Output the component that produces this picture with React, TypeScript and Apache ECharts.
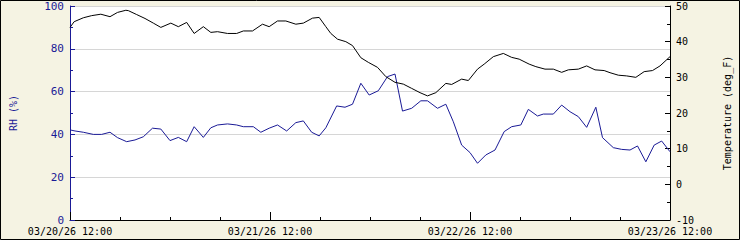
import React, { useEffect, useRef } from "react";
import * as echarts from "echarts";

const xTickLabels = ["03/20/26 12:00", "03/21/26 12:00", "03/22/26 12:00", "03/23/26 12:00"];

const tempHours = [0, 0.5, 1.6, 2.6, 3.7, 4.8, 5.7, 6.7, 7.0, 8.0, 9.0, 10.0, 10.9, 12.1, 13.0, 14.0, 14.9, 16.0, 16.9, 17.7, 18.9, 20.0, 20.8, 21.9, 23.1, 23.9, 24.9, 25.9, 27.1, 28.0, 29.1, 29.9, 30.7, 31.3, 32.1, 33.1, 33.9, 34.9, 35.8, 36.9, 37.9, 39.0, 40.0, 41.0, 42.0, 42.9, 43.9, 45.1, 45.8, 47.0, 47.8, 48.9, 49.7, 50.8, 52.0, 53.0, 53.9, 55.1, 55.9, 57.0, 58.0, 59.0, 59.8, 61.0, 62.0, 63.0, 64.1, 64.8, 65.8, 66.8, 67.9, 68.9, 69.9, 70.8, 72.0];
const tempValues = [44.0, 45.6, 46.7, 47.3, 47.7, 47.0, 48.2, 48.8, 48.7, 47.6, 46.5, 45.2, 44.0, 45.2, 44.2, 45.4, 42.3, 44.2, 42.6, 42.8, 42.3, 42.3, 43.0, 43.0, 44.9, 44.2, 45.8, 45.8, 44.9, 45.2, 46.6, 46.8, 44.2, 42.3, 40.7, 40.0, 38.9, 35.5, 34.2, 32.8, 30.2, 28.6, 28.1, 26.9, 25.7, 24.8, 25.7, 28.3, 28.0, 29.5, 29.1, 32.3, 33.7, 35.8, 36.7, 35.6, 35.1, 33.7, 33.0, 32.3, 32.3, 31.4, 32.1, 32.3, 33.2, 32.1, 31.9, 31.3, 30.6, 30.4, 30.0, 31.6, 31.9, 33.2, 35.8];

const rhHours = [0, 0.6, 1.6, 2.8, 3.8, 4.8, 5.7, 6.8, 7.8, 8.8, 9.9, 10.9, 12.0, 13.0, 14.0, 14.9, 16.0, 16.9, 17.7, 18.9, 20.0, 20.8, 22.0, 22.9, 23.9, 24.9, 26.0, 27.1, 28.0, 29.0, 29.9, 30.7, 32.0, 33.0, 33.9, 34.9, 35.9, 37.0, 38.1, 39.0, 39.9, 41.0, 42.1, 42.9, 44.1, 45.1, 46.0, 47.0, 48.0, 48.9, 49.9, 51.0, 52.1, 53.0, 54.1, 55.0, 56.1, 56.8, 58.0, 59.0, 60.0, 61.0, 62.0, 63.1, 63.9, 65.2, 66.2, 67.2, 68.1, 69.1, 70.1, 71.0, 72.0];
const rhValues = [42.1, 41.6, 41.0, 40.0, 40.0, 41.0, 38.5, 36.6, 37.4, 38.9, 42.9, 42.5, 37.1, 38.6, 36.6, 43.6, 38.6, 43.1, 44.4, 44.9, 44.4, 43.6, 43.6, 41.0, 42.9, 44.4, 41.6, 45.5, 46.3, 41.0, 39.3, 43.1, 53.3, 52.7, 54.1, 63.9, 58.4, 60.4, 67.0, 68.2, 50.9, 52.2, 55.7, 55.7, 52.2, 54.1, 45.9, 35.0, 31.5, 26.5, 30.4, 32.7, 41.3, 43.6, 44.4, 51.7, 48.6, 49.5, 49.5, 53.7, 50.6, 48.3, 43.3, 52.7, 38.5, 33.8, 33.0, 32.7, 34.6, 27.2, 35.0, 36.9, 31.9];

const NAVY = "#1a1a96";
const FONT = "DejaVu Sans Mono";

export default function App() {
  const ref = useRef<HTMLDivElement>(null);
  useEffect(() => {
    document.body.style.margin = "0";
    if (!ref.current) return;
    const chart = echarts.init(ref.current, undefined, { renderer: "svg" });
    chart.setOption({
      animation: false,
      backgroundColor: "#f5f3e3",
      grid: { left: 61, right: 60, top: 6, bottom: 20, show: true, backgroundColor: "#ffffff", borderWidth: 0 },
      graphic: [
        { type: "rect", shape: { x: 0.5, y: 0.5, width: 739, height: 239 }, style: { fill: "none", stroke: "#000", lineWidth: 1 }, z: 100 },
      ],
      xAxis: {
        type: "value",
        min: 0,
        max: 72,
        interval: 24,
        axisLine: { lineStyle: { color: "#000", width: 1 } },
        axisTick: { inside: true, length: 8, lineStyle: { color: "#000" } },
        minorTick: { show: true, splitNumber: 4, length: 3, lineStyle: { color: "#000" } },
        splitLine: { show: false },
        axisLabel: {
          color: "#000",
          fontFamily: FONT,
          fontSize: 10,
          margin: 6,
          formatter: (v: number) => xTickLabels[Math.round(v / 24)] ?? "",
        },
      },
      yAxis: [
        {
          type: "value",
          min: 0,
          max: 100,
          interval: 20,
          position: "left",
          name: "RH (%)",
          nameLocation: "middle",
          nameRotate: 90,
          nameGap: 52,
          nameTextStyle: { color: NAVY, fontFamily: FONT, fontSize: 10 },
          axisLine: { show: true, lineStyle: { color: NAVY } },
          axisTick: { show: true, inside: true, length: 5, lineStyle: { color: NAVY } },
          minorTick: { show: true, splitNumber: 2, length: 3, lineStyle: { color: NAVY } },
          splitLine: { show: true, lineStyle: { color: "#d6d6d6", width: 1 } },
          axisLabel: { color: NAVY, fontFamily: FONT, fontSize: 11, margin: 6 },
        },
        {
          type: "value",
          min: -10,
          max: 50,
          interval: 10,
          position: "right",
          name: "Temperature (deg_F)",
          nameLocation: "middle",
          nameRotate: 90,
          nameGap: 52,
          nameTextStyle: { color: "#000", fontFamily: FONT, fontSize: 10 },
          axisLine: { show: true, lineStyle: { color: "#000" } },
          axisTick: { show: true, inside: true, length: 5, lineStyle: { color: "#000" } },
          minorTick: { show: true, splitNumber: 2, length: 3, lineStyle: { color: "#000" } },
          splitLine: { show: false },
          axisLabel: { color: "#000", fontFamily: FONT, fontSize: 10, margin: 6 },
        },
      ],
      series: [
        {
          type: "line",
          yAxisIndex: 1,
          data: tempHours.map((h, i) => [h, tempValues[i]]),
          showSymbol: false,
          lineStyle: { color: "#000", width: 1 },
          itemStyle: { color: "#000" },
          z: 3,
        },
        {
          type: "line",
          yAxisIndex: 0,
          data: rhHours.map((h, i) => [h, rhValues[i]]),
          showSymbol: false,
          lineStyle: { color: NAVY, width: 1 },
          itemStyle: { color: NAVY },
          z: 2,
        },
      ],
    });
    return () => chart.dispose();
  }, []);
  return <div ref={ref} style={{ width: 740, height: 240 }} />;
}
